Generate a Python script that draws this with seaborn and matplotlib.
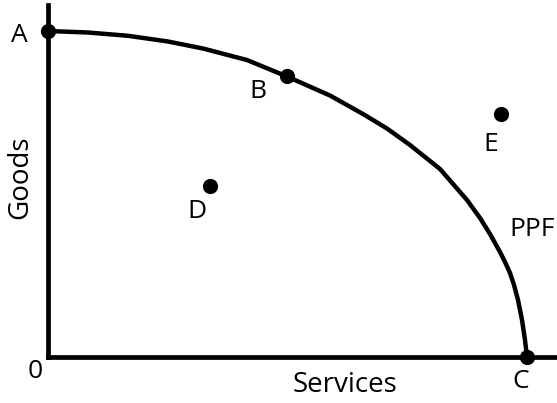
import matplotlib
matplotlib.use("Agg")
import matplotlib.pyplot as plt
import seaborn as sns
import pandas as pd

# PPF curve points (services, goods)
ppf_services = [0.0, 0.835, 1.670, 2.505, 3.236, 4.154, 4.990, 5.887, 6.576, 7.077,
                7.557, 8.184, 8.747, 9.019, 9.228, 9.436, 9.541, 9.645, 9.729, 9.812,
                9.896, 9.958, 10.0]
ppf_goods = [10.0, 9.954, 9.853, 9.678, 9.463, 9.110, 8.604, 8.021, 7.454, 7.009,
             6.503, 5.767, 4.816, 4.264, 3.773, 3.221, 2.914, 2.577, 2.209, 1.748,
             1.135, 0.521, 0.0]

# labelled points
point_names = ["A", "B", "C", "D", "E"]
point_services = [0.0, 4.99, 10.0, 3.38, 9.45]
point_goods = [10.0, 8.62, 0.0, 5.25, 7.45]

curve = pd.DataFrame({"Services": ppf_services, "Goods": ppf_goods})
pts = pd.DataFrame({"name": point_names, "Services": point_services, "Goods": point_goods})

sns.set_style("white")
plt.rcParams['font.family'] = ['Open Sans', 'DejaVu Sans']
plt.rcParams['text.color'] = 'black'

fig = plt.figure(figsize=(5.57, 4.03), dpi=100)
ax = fig.add_axes([48/557, 1 - 357/403, 1 - 48/557, (357 - 5)/403])

sns.lineplot(data=curve, x="Services", y="Goods", sort=False, color="black",
             linewidth=3.2, ax=ax, clip_on=False, solid_joinstyle="round",
             solid_capstyle="round")
sns.scatterplot(data=pts, x="Services", y="Goods", color="black", s=120,
                edgecolor="black", linewidth=0, ax=ax, clip_on=False, zorder=5)

ax.set_xlim(0, (557 - 48) / 47.9)
ax.set_ylim(0, (357 - 5) / 32.6)
ax.set_xticks([])
ax.set_yticks([])
ax.set_xlabel("")
ax.set_ylabel("")
sns.despine(ax=ax)
for s in ["left", "bottom"]:
    ax.spines[s].set_linewidth(3.4)
    ax.spines[s].set_color("black")

fs = 19
offsets = {"A": (-29, -4), "B": (-29, -16), "C": (-6, -25), "D": (-13, -26), "E": (-10, -30)}
for n, xs, yg in zip(point_names, point_services, point_goods):
    dx, dy = offsets[n]
    ax.annotate(n, (xs, yg), xytext=(dx, dy), textcoords="offset pixels",
                ha="center", va="center", fontsize=fs, color="black",
                annotation_clip=False)

fig.text(509/557, 1 - 230/403, "PPF", ha="left", va="center", fontsize=fs, color="black")
fig.text(35/557, 1 - 371/403, "0", ha="center", va="center", fontsize=fs, color="black")
fig.text(345/557, 1 - 385/403, "Services", ha="center", va="center", fontsize=fs + 1, color="black")
fig.text(20/557, 1 - 177/403, "Goods", ha="center", va="center", rotation=90,
         fontsize=fs + 1, color="black")

fig.savefig("out.png", dpi=100)
